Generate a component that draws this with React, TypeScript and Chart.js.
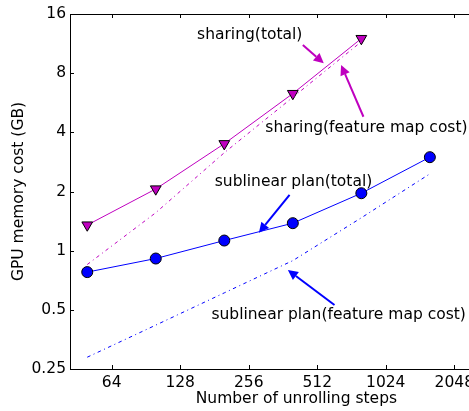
import React, { useEffect, useRef } from "react";
import { Chart, registerables } from "chart.js";

Chart.register(...registerables);

// ---- data ----
const steps = [50, 100, 200, 400, 800, 1600];
const sharingSteps = [50, 100, 200, 400, 800];
const sharingTotal = [1.35, 2.06, 3.5, 6.3, 12.0];
const sharingFeature = [0.85, 1.56, 3.15, 6.03, 11.57];
const sublinearTotal = [0.778, 0.912, 1.126, 1.38, 1.96, 2.99];
const sublinearFeature = [0.287, 0.418, 0.61, 0.89, 1.47, 2.46];

const xTicks = [64, 128, 256, 512, 1024, 2048];
const yTicks = [0.25, 0.5, 1, 2, 4, 8, 16];
const yTickLabels = ["0.25", "0.5", "1", "2", "4", "8", "16"];

// annotation texts: [label, x (steps), y (GB)] ; arrows: [fromX, fromY, toX, toY]
const annoLabels = [
  "sharing(total)",
  "sharing(feature map cost)",
  "sublinear plan(total)",
  "sublinear plan(feature map cost)",
];
const annoTextX = [151.9, 302.9, 181.6, 175.6];
const annoTextY = [12.51, 4.19, 2.23, 0.4706];
const annoFromX = [442.7, 817, 387, 609.7];
const annoFromY = [11.13, 4.8, 1.92, 0.529];
const annoToX = [547, 652, 283.9, 380.5];
const annoToY = [8.98, 8.8, 1.234, 0.797];
const annoColors = ["#bf00bf", "#bf00bf", "#0000ff", "#0000ff"];

const MAGENTA = "#bf00bf";
const BLUE = "#0000ff";
const FONT = "DejaVu Sans";
const FS = 15.5;

function drawArrow(ctx: CanvasRenderingContext2D, x1: number, y1: number, x2: number, y2: number, color: string) {
  const headLen = 10;
  const headHalf = 5;
  const ang = Math.atan2(y2 - y1, x2 - x1);
  const bx = x2 - headLen * Math.cos(ang);
  const by = y2 - headLen * Math.sin(ang);
  ctx.save();
  ctx.strokeStyle = color;
  ctx.fillStyle = color;
  ctx.lineWidth = 2;
  ctx.beginPath();
  ctx.moveTo(x1, y1);
  ctx.lineTo(bx, by);
  ctx.stroke();
  ctx.beginPath();
  ctx.moveTo(x2, y2);
  ctx.lineTo(bx + headHalf * Math.sin(ang), by - headHalf * Math.cos(ang));
  ctx.lineTo(bx - headHalf * Math.sin(ang), by + headHalf * Math.cos(ang));
  ctx.closePath();
  ctx.fill();
  ctx.restore();
}

const decorPlugin = {
  id: "decor",
  afterDraw(chart: any) {
    const ctx: CanvasRenderingContext2D = chart.ctx;
    const { left, right, top, bottom } = chart.chartArea;
    const xs = chart.scales.x;
    const ys = chart.scales.y;
    ctx.save();
    // spines top / right
    ctx.strokeStyle = "#000";
    ctx.lineWidth = 1;
    ctx.beginPath();
    ctx.moveTo(left, top + 0.5);
    ctx.lineTo(right, top + 0.5);
    ctx.moveTo(right - 0.5, top);
    ctx.lineTo(right - 0.5, bottom);
    ctx.stroke();
    // inward ticks
    const tl = 4;
    ctx.beginPath();
    xTicks.forEach((v) => {
      const px = Math.round(xs.getPixelForValue(v)) + 0.5;
      ctx.moveTo(px, bottom);
      ctx.lineTo(px, bottom - tl);
      ctx.moveTo(px, top);
      ctx.lineTo(px, top + tl);
    });
    yTicks.forEach((v) => {
      const py = Math.round(ys.getPixelForValue(v)) + 0.5;
      ctx.moveTo(left, py);
      ctx.lineTo(left + tl, py);
      ctx.moveTo(right, py);
      ctx.lineTo(right - tl, py);
    });
    ctx.stroke();
    // annotations
    ctx.font = `${FS}px "${FONT}"`;
    ctx.fillStyle = "#000";
    ctx.textBaseline = "middle";
    ctx.textAlign = "left";
    annoLabels.forEach((t, i) => {
      ctx.fillText(t, xs.getPixelForValue(annoTextX[i]), ys.getPixelForValue(annoTextY[i]));
      drawArrow(
        ctx,
        xs.getPixelForValue(annoFromX[i]),
        ys.getPixelForValue(annoFromY[i]),
        xs.getPixelForValue(annoToX[i]),
        ys.getPixelForValue(annoToY[i]),
        annoColors[i]
      );
    });
    ctx.restore();
  },
};

export default function App() {
  const ref = useRef<HTMLCanvasElement>(null);
  useEffect(() => {
    if (!ref.current) return;
    Chart.defaults.font.family = FONT;
    Chart.defaults.font.size = FS;
    Chart.defaults.color = "#000";
    const dash = [3.5, 3.5, 1, 3.5];
    const chart = new Chart(ref.current, {
      type: "line",
      data: {
        datasets: [
          {
            label: "sharing(feature map cost)",
            data: sharingSteps.map((x, i) => ({ x, y: sharingFeature[i] })),
            borderColor: MAGENTA,
            borderWidth: 1,
            borderDash: dash,
            pointRadius: 0,
          },
          {
            label: "sublinear plan(feature map cost)",
            data: steps.map((x, i) => ({ x, y: sublinearFeature[i] })),
            borderColor: BLUE,
            borderWidth: 1,
            borderDash: dash,
            pointRadius: 0,
          },
          {
            label: "sharing(total)",
            data: sharingSteps.map((x, i) => ({ x, y: sharingTotal[i] })),
            borderColor: MAGENTA,
            backgroundColor: MAGENTA,
            borderWidth: 1,
            pointStyle: "triangle",
            rotation: 180,
            pointRadius: 6.2,
            pointBorderColor: "#000",
            pointBorderWidth: 1,
            pointBackgroundColor: MAGENTA,
          },
          {
            label: "sublinear plan(total)",
            data: steps.map((x, i) => ({ x, y: sublinearTotal[i] })),
            borderColor: BLUE,
            backgroundColor: BLUE,
            borderWidth: 1,
            pointStyle: "circle",
            pointRadius: 5.5,
            pointBorderColor: "#000",
            pointBorderWidth: 1,
            pointBackgroundColor: BLUE,
          },
        ],
      },
      options: {
        responsive: false,
        animation: false,
        layout: { padding: { top: 14, right: 6, left: 0, bottom: 0 } },
        plugins: { legend: { display: false }, tooltip: { enabled: false } },
        scales: {
          x: {
            type: "logarithmic",
            min: 42,
            max: 4096,
            grid: { display: false, drawTicks: false },
            border: { display: true, color: "#000", width: 1 },
            ticks: {
              autoSkip: false,
              maxRotation: 0,
              padding: 5,
              color: "#000",
              font: { size: FS, family: FONT },
              callback: (v: any) => String(v),
            },
            afterBuildTicks: (scale: any) => {
              scale.ticks = xTicks.map((v) => ({ value: v }));
            },
            afterFit: (scale: any) => {
              scale.height = 42;
            },
            title: {
              display: true,
              text: "Number of unrolling steps",
              color: "#000",
              font: { size: FS, family: FONT },
              padding: { top: 0, bottom: 3 },
            },
          },
          y: {
            type: "logarithmic",
            min: 0.25,
            max: 16,
            grid: { display: false, drawTicks: false },
            border: { display: true, color: "#000", width: 1 },
            ticks: {
              autoSkip: false,
              padding: 4,
              color: "#000",
              font: { size: FS, family: FONT },
              callback: (v: any) => {
                const i = yTicks.indexOf(Number(v));
                return i >= 0 ? yTickLabels[i] : "";
              },
            },
            afterBuildTicks: (scale: any) => {
              scale.ticks = yTicks.map((v) => ({ value: v }));
            },
            afterFit: (scale: any) => {
              scale.width = 70;
            },
            title: {
              display: true,
              text: "GPU memory cost (GB)",
              color: "#000",
              font: { size: FS, family: FONT },
              padding: { top: 10, bottom: 0 },
            },
          },
        },
      },
      plugins: [decorPlugin],
    } as any);
    return () => chart.destroy();
  }, []);
  return (
    <div
      style={{
        position: "fixed",
        left: 0,
        top: 0,
        width: 469,
        height: 411,
        overflow: "hidden",
        background: "#fff",
      }}
    >
      <canvas ref={ref} width={530} height={411} style={{ width: 530, height: 411, display: "block" }} />
    </div>
  );
}
